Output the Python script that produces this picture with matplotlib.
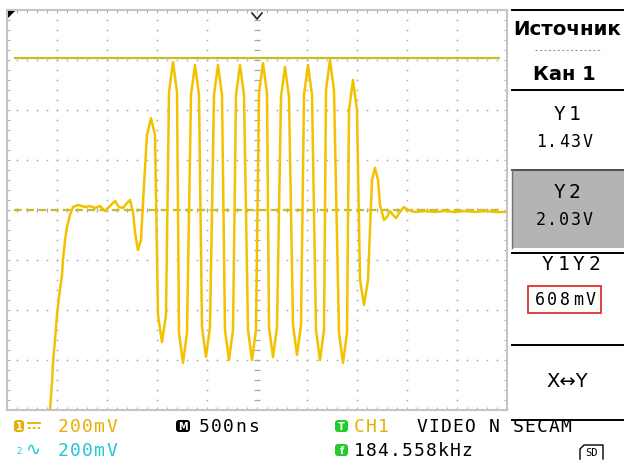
import numpy as np
import matplotlib.pyplot as plt
from matplotlib.patches import FancyBboxPatch, Rectangle, Polygon
from matplotlib.ticker import MultipleLocator, NullLocator

# trace CH1: time (ns, trigger at 0) and voltage (V, relative to Y2 cursor)
t_ns = [-2090, -2070, -2050, -2040, -2020, -2000, -1980, -1950, -1940, -1920,
        -1900, -1870, -1840, -1790, -1720, -1670, -1620, -1570, -1520, -1470,
        -1420, -1380, -1340, -1300, -1270, -1240, -1220, -1190, -1160, -1130,
        -1100, -1060, -1020, -990, -950, -910, -880, -840, -800, -780,
        -740, -700, -660, -620, -580, -550, -510, -470, -430, -390,
        -350, -320, -280, -240, -210, -170, -130, -90, -50, -10,
        20, 60, 100, 120, 160, 200, 240, 280, 320, 360,
        400, 440, 470, 510, 550, 590, 630, 670, 690, 730,
        770, 820, 860, 900, 920, 960, 1000, 1030, 1070, 1110,
        1150, 1180, 1210, 1230, 1270, 1300, 1330, 1360, 1390, 1430,
        1470, 1510, 1580, 1680, 1780, 1880, 1980, 2080, 2180, 2280,
        2380, 2500]
v_ch1 = [-0.92, -0.80, -0.692, -0.612, -0.52, -0.42, -0.348, -0.26, -0.20, -0.12,
         -0.068, -0.02, 0.012, 0.02, 0.012, 0.016, 0.008, 0.016, -0.004, 0.016,
         0.036, 0.012, 0.008, 0.028, 0.04, -0.008, -0.088, -0.16, -0.12, 0.10,
         0.30, 0.368, 0.30, -0.42, -0.528, -0.42, 0.472, 0.592, 0.472, -0.492,
         -0.612, -0.492, 0.46, 0.58, 0.46, -0.468, -0.588, -0.468, 0.46, 0.58,
         0.46, -0.48, -0.60, -0.48, 0.46, 0.58, 0.46, -0.48, -0.60, -0.48,
         0.468, 0.588, 0.468, -0.468, -0.588, -0.468, 0.452, 0.572, 0.452, -0.46,
         -0.58, -0.46, 0.46, 0.58, 0.46, -0.48, -0.60, -0.48, 0.48, 0.60,
         0.48, -0.492, -0.612, -0.492, 0.40, 0.52, 0.40, -0.28, -0.38, -0.28,
         0.12, 0.168, 0.12, 0.02, -0.04, -0.028, -0.004, -0.02, -0.032, -0.008,
         0.012, 0.0, -0.008, -0.004, -0.008, -0.004, -0.008, -0.004, -0.008, -0.004,
         -0.008, -0.008]

y1_level = 0.608          # Y1 cursor above Y2 (V)
y2_level = 0.0
y1_read = "1.43V"
y2_read = "2.03V"
volts_div = 0.2
ns_div = 500

TRACE = "#f2c200"
CURSOR = "#c4bd28"
GRIDC = "#a6a6a6"
ORANGE = "#e8b000"
CYAN = "#22c6d6"
GREEN = "#22cc2a"

W, H = 624, 461
fig = plt.figure(figsize=(W / 100, H / 100), dpi=100)
fig.patch.set_facecolor("white")

# scope screen: 500 x 400 px, 10 x 8 divisions
ax = fig.add_axes([7 / W, (H - 410) / H, 500 / W, 400 / H], zorder=1)
ax.set_xlim(-5 * ns_div, 5 * ns_div)
ax.set_ylim(-4 * volts_div, 4 * volts_div)
for s in ax.spines.values():
    s.set_color("#c4c4c4")
    s.set_linewidth(1.5)
ax.xaxis.set_major_locator(NullLocator())
ax.yaxis.set_major_locator(NullLocator())
ax.xaxis.set_minor_locator(MultipleLocator(ns_div / 5))
ax.yaxis.set_minor_locator(MultipleLocator(volts_div / 5))
ax.tick_params(which="minor", direction="in", length=2.2, width=0.8, color="#b0b0b0",
               top=True, right=True, labelbottom=False, labelleft=False)

# dotted graticule
xs, ys = [], []
for k in [-4, -3, -2, -1, 1, 2, 3, 4]:
    for v in np.arange(-19, 20) * volts_div / 5:
        xs.append(k * ns_div)
        ys.append(v)
for k in [-3, -2, -1, 1, 2, 3]:
    for t in np.arange(-24, 25) * ns_div / 5:
        xs.append(t)
        ys.append(k * volts_div)
ax.plot(xs, ys, ls="none", marker="s", ms=1.1, mew=0, color=GRIDC)

# centre axes with small ticks
tc = np.arange(-24, 25) * ns_div / 5
vc = np.arange(-19, 20) * volts_div / 5
ax.plot(tc, np.zeros_like(tc), ls="none", marker="|", ms=3.5, mew=0.9, color=GRIDC)
ax.plot(np.zeros_like(vc), vc, ls="none", marker="_", ms=4, mew=0.9, color=GRIDC)

# cursors
ax.plot([-2430, 2430], [y1_level, y1_level], color=CURSOR, lw=1.6, solid_capstyle="butt")
ax.plot([-2430, 2430], [y2_level, y2_level], color=CURSOR, lw=1.6, dashes=(3.5, 2))

# signal
ax.plot(t_ns, v_ch1, color=TRACE, lw=1.8)

# overlay in pixel coordinates for the menu and status bar
ov = fig.add_axes([0, 0, 1, 1], zorder=2)
ov.set_xlim(0, W)
ov.set_ylim(H, 0)
ov.axis("off")
ov.patch.set_alpha(0)

MONO = "DejaVu Sans Mono"


def lcd(x, y, s, pitch, size, color="black", weight="normal"):
    # fixed pitch text, x = left edge, y = baseline
    for i, ch in enumerate(s):
        ov.text(x + i * pitch + pitch / 2, y, ch, ha="center", va="baseline",
                fontsize=size, color=color, family=MONO, weight=weight)


def icon(x, y, w, h, fc, ch):
    ov.add_patch(FancyBboxPatch((x, y), w, h, boxstyle="round,pad=0,rounding_size=3",
                                fc=fc, ec="none"))
    ov.text(x + w / 2, y + h / 2 + 0.5, ch, ha="center", va="center", fontsize=7,
            color="white", weight="bold", family="DejaVu Sans")


# screen markers
ov.add_patch(Polygon([(8, 11), (15, 11), (8, 18)], closed=True, fc="black", ec="none"))
ov.plot([252, 257, 262], [13, 19, 13], color="#222222", lw=1.2)

# right menu
for yy in [10, 90, 253, 345, 420]:
    ov.plot([512, 624], [yy, yy], color="black", lw=1.4)
ov.plot([535, 602], [50, 50], color="#9a9a9a", lw=0.8, ls=(0, (2, 2)))
ov.add_patch(Rectangle((512, 170), 112, 78, fc="#b4b4b4", ec="none"))
ov.plot([512, 624], [170, 170], color="#505050", lw=1.4)
ov.plot([512, 512], [170, 248], color="#707070", lw=1.0)

ov.text(567, 35, "Источник", ha="center", va="baseline", fontsize=14.2,
        weight="bold", family="DejaVu Sans")
ov.text(564, 80, "Кан 1", ha="center", va="baseline", fontsize=14,
        weight="bold", family="DejaVu Sans")
lcd(552, 120, "Y1", 15, 14)
lcd(535, 147, y1_read, 11.6, 12)
lcd(552, 198, "Y2", 15, 14)
lcd(535, 225, y2_read, 11.6, 12)
lcd(540, 270, "Y1Y2", 15.5, 14)
lcd(533, 305, f"{y1_level * 1000:.0f}mV", 12.8, 12)
ov.add_patch(Rectangle((528, 286), 73, 27, fc="none", ec="#e03030", lw=1.3))
ov.text(567, 387, "X↔Y", ha="center", va="baseline", fontsize=14, family="DejaVu Sans")

# status bar
icon(14, 420, 10, 12, ORANGE, "1")
ov.plot([28, 40], [423, 423], color=ORANGE, lw=1.3)
ov.plot([28, 40], [428, 428], color=ORANGE, lw=1.3, dashes=(1.5, 1.2))
lcd(57, 432, "200mV", 12.2, 13, ORANGE)
icon(176, 420, 14, 12, "black", "M")
lcd(198, 432, "500ns", 12.3, 13)
icon(335, 420, 13, 12, GREEN, "T")
lcd(353, 432, "CH1", 12, 13, ORANGE)
lcd(416, 432, "VIDEO N SECAM", 12, 13)

ov.text(19, 454, "2", ha="center", va="baseline", fontsize=6.5, color=CYAN, family=MONO)
ov.text(33, 455, "∿", ha="center", va="baseline", fontsize=13, color=CYAN, family="DejaVu Sans")
lcd(57, 456, "200mV", 12.2, 13, CYAN)
icon(335, 444, 13, 12, GREEN, "f")
lcd(353, 456, "184.558kHz", 12, 13)

# SD card symbol
ov.plot([580, 580, 584, 603, 603], [459, 449, 445, 445, 459], color="black", lw=1.0)
ov.text(592, 456, "SD", ha="center", va="baseline", fontsize=7.5, family=MONO)

fig.savefig("out.png", dpi=100)
